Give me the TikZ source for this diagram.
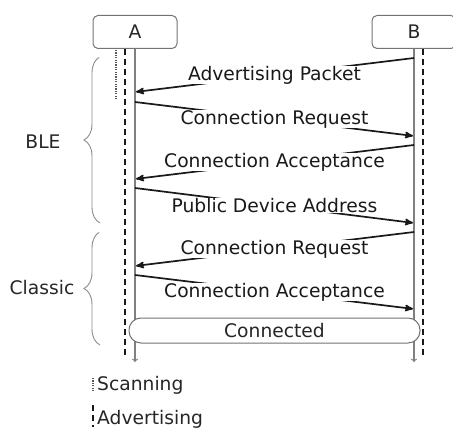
\documentclass[tikz,border=0pt]{standalone}
\usepackage{fontspec}
\setmainfont{DejaVu Sans}
\usetikzlibrary{arrows,decorations.pathreplacing}

\begin{document}
\begin{tikzpicture}[x=1pt,y=-1pt,>=stealth',shorten >=1pt,
                    font=\fontsize{18.7}{21}\selectfont,text=black!85,
                    actor node/.style={draw=black!55,line width=1pt,rounded corners=5pt,minimum width=84pt,minimum height=33pt,inner sep=0pt},
                    msg/.style={->,line width=1.7pt,black!90},
                    msg label/.style={fill=white,inner sep=0pt},
                    life line/.style={-to,black!50,line width=1.2pt,shorten >=0pt},
                    adv line/.style={black!90,line width=1.8pt,dash pattern=on 6pt off 4pt},
                    scan line/.style={gray!70!black,line width=1.6pt,dash pattern=on 1.2pt off 1.2pt},
                    phase brace/.style={decorate,decoration={brace,amplitude=16pt},black!45,line width=0.9pt}]
\useasboundingbox (0,0) rectangle (453,428);

\node[actor node] (A) at (135,32) {A};
\node[actor node] (B) at (414,32) {B};

% lifelines
\coordinate (Aend) at (135,362);
\coordinate (Bend) at (414,362);
\draw[life line] (A) -- (Aend);
\draw[life line] (B) -- (Bend);
\draw[adv line] (125,49) -- (125,358);
\draw[adv line] (423,49) -- (423,358);
\draw[scan line] (116,50) -- (116,100);

% messages
\coordinate (b1) at (414,58);  \coordinate (a1) at (135,92);
\coordinate (a2) at (135,102); \coordinate (b2) at (414,136);
\coordinate (b3) at (414,145); \coordinate (a3) at (135,179);
\coordinate (a4) at (135,188); \coordinate (b4) at (414,223);
\coordinate (b5) at (414,232); \coordinate (a5) at (135,266);
\coordinate (a6) at (135,275); \coordinate (b6) at (414,309);

\path[msg]
(b1) edge node[msg label] {Advertising Packet} (a1)
(a2) edge node[msg label] {Connection Request} (b2)
(b3) edge node[msg label] {Connection Acceptance} (a3)
(a4) edge node[msg label] {Public Device Address} (b4)
(b5) edge node[msg label] {Connection Request} (a5)
(a6) edge node[msg label] {Connection Acceptance} (b6);

\node[draw=black!55,line width=1pt,fill=white,rounded corners=12pt,minimum width=291pt,minimum height=25pt,inner sep=0pt] (conn) at (274.5,330.5) {Connected};

% phases
\draw[phase brace] (100,223) -- (100,57);
\draw[phase brace] (100,345) -- (100,232);
\node (ble) at (43,142) {BLE};
\node (classic) at (42,288) {Classic};

% legend
\draw[scan line] (93,378) -- (93,393);
\node[anchor=west,inner sep=1pt] (scan) at (96,385) {Scanning};
\draw[adv line] (93,405) -- (93,428);
\node[anchor=west,inner sep=1pt] (adv) at (96,419) {Advertising};
\end{tikzpicture}
\end{document}
